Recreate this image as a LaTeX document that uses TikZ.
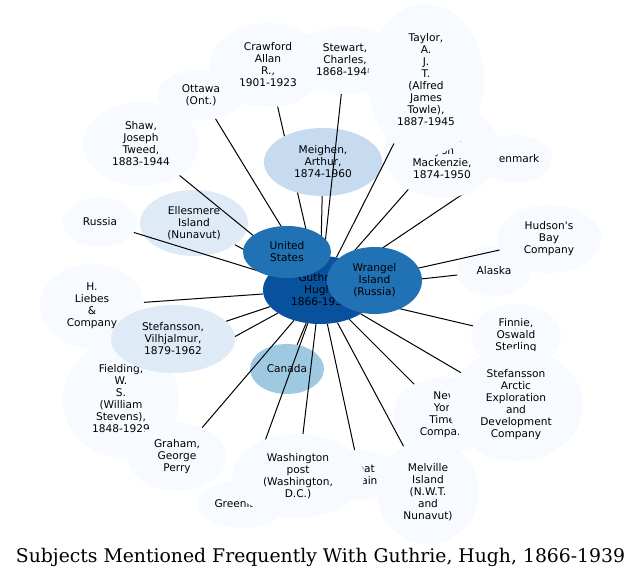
\documentclass[tikz,border=0pt]{standalone}
\usepackage{fontspec}
\newfontfamily\nodefont{DejaVu Sans}
\newfontfamily\titlefont{DejaVu Serif}
\usetikzlibrary{shapes.geometric}
\definecolor{bla}{HTML}{F7FBFF}
\definecolor{blb}{HTML}{DEEBF7}
\definecolor{blc}{HTML}{C6DBEF}
\definecolor{bld}{HTML}{9ECAE1}
\definecolor{blf}{HTML}{2171B5}
\definecolor{blg}{HTML}{08519C}
\pgfdeclarelayer{bgnodes}
\pgfdeclarelayer{lowedges}
\pgfdeclarelayer{midnodes}
\pgfdeclarelayer{topnodes}
\pgfdeclarelayer{centre}
\pgfsetlayers{bgnodes,lowedges,midnodes,topnodes,main,centre}
\begin{document}
\begin{tikzpicture}[x=1pt,y=-1pt,
  nd/.style={ellipse, inner sep=0pt, draw=none, align=center, text=black,
    font=\nodefont\fontsize{10.6}{12}\selectfont},
  sz/.style 2 args={minimum width=#1*2pt, minimum height=#2*2pt},
  ed/.style={line width=1pt, draw=black}]
\useasboundingbox (0,0) rectangle (641,580);

\begin{pgfonlayer}{bgnodes}
\fill[white] (0,0) rectangle (641,580);
\node[nd, fill=bla, sz={58}{42}] (crawford) at (268,65) {Crawford\\Allan\\R.,\\1901-1923};
\node[nd, fill=bla, sz={52}{34}] (stewart) at (345,60) {Stewart,\\Charles,\\1868-1946};
\node[nd, fill=bla, sz={44}{25}] (ottawa) at (201,95) {Ottawa\\(Ont.)};
\node[nd, fill=bla, sz={58}{42}] (shaw) at (141,144) {Shaw,\\Joseph\\Tweed,\\1883-1944};
\node[nd, fill=bla, sz={37}{25}] (russia) at (100,222) {Russia};
\node[nd, fill=blb, sz={54}{33}] (ellesmere) at (194,223) {Ellesmere\\Island\\(Nunavut)};
\node[nd, fill=bla, sz={52}{42}] (liebes) at (92,306) {H.\\Liebes\\\&\\Company};
\node[nd, fill=bla, sz={58}{58}] (fielding) at (121,399) {Fielding,\\W.\\S.\\(William\\Stevens),\\1848-1929};
\node[nd, fill=bld, sz={37}{25}] (canada) at (287,369) {Canada};
\node[nd, fill=bla, sz={44}{24}] (greenland) at (242,504) {Greenland};
\node[nd, fill=bla, sz={51}{52}] (melville) at (428,492) {Melville\\Island\\(N.W.T.\\and\\Nunavut)};
\node[nd, fill=bla, sz={40}{25}] (britain) at (360,475) {Great\\Britain};
\node[nd, fill=bla, sz={52}{38}] (nyt) at (445,415) {New\\York\\Times\\Company};
\node[nd, fill=bla, sz={45}{32}] (finnie) at (516,336) {Finnie,\\Oswald\\Sterling};
\node[nd, fill=bla, sz={52}{34}] (hudson) at (549,239) {Hudson's\\Bay\\Company};
\node[nd, fill=bla, sz={37}{25}] (alaska) at (494,271) {Alaska};
\node[nd, fill=bla, sz={37}{24}] (denmark) at (515,159) {Denmark};
\end{pgfonlayer}

\begin{pgfonlayer}{midnodes}
\node[nd, fill=bla, sz={58}{47}] (king) at (442,151) {King,\\William\\Lyon\\Mackenzie,\\1874-1950};
\node[nd, fill=blc, sz={59}{34}] (meighen) at (323,162) {Meighen,\\Arthur,\\1874-1960};
\node[nd, fill=blb, sz={62}{34}] (stefv) at (173,339) {Stefansson,\\Vilhjalmur,\\1879-1962};
\node[nd, fill=bla, sz={49}{34}] (graham) at (177,457) {Graham,\\George\\Perry};
\node[nd, fill=bla, sz={66}{42}] (washington) at (298,476) {Washington\\post\\(Washington,\\D.C.)};
\node[nd, fill=bla, sz={67}{56}] (arctic) at (516,405) {Stefansson\\Arctic\\Exploration\\and\\Development\\Company};
\end{pgfonlayer}

\begin{pgfonlayer}{topnodes}
\node[nd, fill=bla, sz={58}{76}] (taylor) at (426,80) {Taylor,\\A.\\J.\\T.\\(Alfred\\James\\Towle),\\1887-1945};
\end{pgfonlayer}

\begin{pgfonlayer}{centre}
\node[nd, fill=blg, sz={57}{34}] (guthrie) at (320,290) {Guthrie,\\Hugh,\\1866-1939};
\node[nd, fill=blf, sz={44}{26}] (us) at (287,252) {United\\States};
\node[nd, fill=blf, sz={47.5}{33.5}] (wrangel) at (374.5,280.5) {Wrangel\\Island\\(Russia)};
\end{pgfonlayer}

\begin{pgfonlayer}{lowedges}
\draw[ed] (crawford) -- (guthrie);
\draw[ed] (denmark) -- (guthrie);
\draw[ed] (fielding) -- (guthrie);
\draw[ed] (greenland) -- (guthrie);
\end{pgfonlayer}

\draw[ed] (ottawa) -- (guthrie);
\draw[ed] (stewart) -- (guthrie);
\draw[ed] (meighen) -- (guthrie);
\draw[ed] (taylor) -- (guthrie);
\draw[ed] (king) -- (guthrie);
\draw[ed] (hudson) -- (guthrie);
\draw[ed] (alaska) -- (guthrie);
\draw[ed] (finnie) -- (guthrie);
\draw[ed] (arctic) -- (guthrie);
\draw[ed] (nyt) -- (guthrie);
\draw[ed] (melville) -- (guthrie);
\draw[ed] (britain) -- (guthrie);
\draw[ed] (washington) -- (guthrie);
\draw[ed] (canada) -- (guthrie);
\draw[ed] (graham) -- (guthrie);
\draw[ed] (stefv) -- (guthrie);
\draw[ed] (liebes) -- (guthrie);
\draw[ed] (russia) -- (guthrie);
\draw[ed] (ellesmere) -- (guthrie);
\draw[ed] (shaw) -- (guthrie);

\node[inner sep=0pt, font=\titlefont\fontsize{18.8}{22}\selectfont] (title) at (320.5,557) {Subjects Mentioned Frequently With Guthrie, Hugh, 1866-1939};
\end{tikzpicture}
\end{document}
